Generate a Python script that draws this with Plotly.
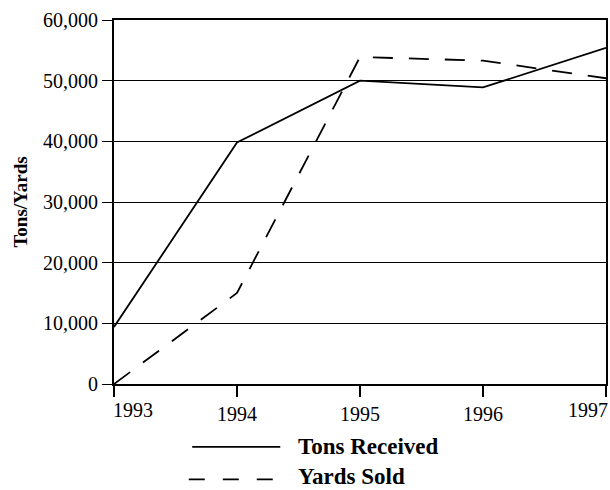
import plotly.graph_objects as go

years = [1993, 1994, 1995, 1996, 1997]
tons_received = [9400, 39800, 50000, 48900, 55400]
yards_sold = [0, 15000, 53900, 53300, 50400]
y_ticks = [0, 10000, 20000, 30000, 40000, 50000, 60000]
y_tick_labels = ["0", "10,000", "20,000", "30,000", "40,000", "50,000", "60,000"]
series_names = ["Tons Received", "Yards Sold"]

font_family = "Liberation Serif, Times New Roman, serif"

fig = go.Figure()
fig.add_trace(go.Scatter(x=years, y=tons_received, mode="lines", name=series_names[0],
                         line=dict(color="black", width=1.8), showlegend=False))
fig.add_trace(go.Scatter(x=years, y=yards_sold, mode="lines", name=series_names[1],
                         line=dict(color="black", width=1.8, dash="20px,16px"), showlegend=False))

# manual legend below the plot (plot area: x 114..608, y 20..384)
legend_rows = [(-0.173, -0.173, "solid", 0.159), (-0.262, -0.253, "16px,18px", 0.152)]
for (yl, yt, dash, x0), name in zip(legend_rows, series_names):
    fig.add_shape(type="line", xref="paper", yref="paper", x0=x0, x1=0.338, y0=yl, y1=yl,
                  line=dict(color="black", width=1.8, dash=dash))
    fig.add_annotation(xref="paper", yref="paper", x=0.372, y=yt, text="<b>%s</b>" % name,
                       showarrow=False, xanchor="left", yanchor="middle", borderpad=0,
                       font=dict(family=font_family, size=23, color="black"))

# first / last year labels aligned inward, as in the reference
tick_text = [str(y) for y in years]
tick_text[0] = ""
tick_text[-1] = ""
fig.add_annotation(xref="x", yref="paper", x=years[0], y=0, yanchor="top", xanchor="left",
                   yshift=-13, xshift=-3, text=str(years[0]), showarrow=False,
                   font=dict(family=font_family, size=20, color="black"))
fig.add_annotation(xref="x", yref="paper", x=years[-1], y=0, yanchor="top", xanchor="right",
                   yshift=-13, xshift=4, text=str(years[-1]), showarrow=False,
                   font=dict(family=font_family, size=20, color="black"))

fig.update_layout(
    width=610, height=490,
    margin=dict(l=114, r=2, t=20, b=106),
    paper_bgcolor="white", plot_bgcolor="white",
    font=dict(family=font_family, size=20, color="black"),
    xaxis=dict(range=[1993, 1997], tickvals=years, ticktext=tick_text,
               showgrid=False, zeroline=False, showline=True, linecolor="black", linewidth=2,
               mirror=True, ticks="outside", ticklen=11, tickwidth=2, tickcolor="black",
               tickfont=dict(size=20)),
    yaxis=dict(range=[0, 60000], tickvals=y_ticks, ticktext=y_tick_labels,
               showgrid=True, gridcolor="black", gridwidth=1, zeroline=False,
               showline=True, linecolor="black", linewidth=2, mirror=True,
               ticks="outside", ticklen=10, tickwidth=1, tickcolor="black",
               tickfont=dict(size=20),
               title=dict(text="<b>Tons/Yards</b>", font=dict(size=19), standoff=10)),
)

fig.write_html("out.html", config={"displayModeBar": False},
               post_script="document.body.style.margin='0';document.body.style.overflow='hidden';")
